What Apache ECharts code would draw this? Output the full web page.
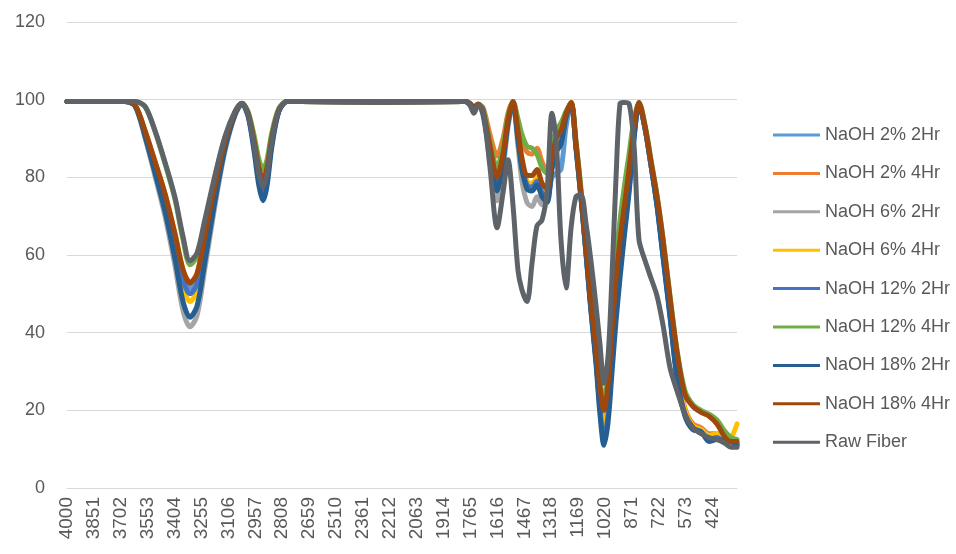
<!DOCTYPE html>
<html>
<head>
<meta charset="utf-8">
<script src="https://cdn.jsdelivr.net/npm/echarts@6/dist/echarts.min.js"></script>
<style>
    html, body { margin: 0; padding: 0; background: #fff; }
    #chart { width: 956px; height: 554px; }
</style>
</head>
<body>
<div id="chart"></div>
<script>
var wavenumbers = [
    4000, 3734, 3679, 3623, 3568, 3513, 3457, 3402, 3357, 3319, 3280, 3236, 3180, 3125, 3069, 3031,
    2997, 2964, 2937, 2914, 2892, 2865, 2826, 2781, 2709, 2266, 1795,
    1768, 1746, 1723, 1696, 1657, 1618, 1585, 1557, 1530, 1502, 1480, 1452, 1424, 1397, 1369, 1341,
    1314, 1291, 1264, 1236, 1208, 1181, 1153, 1125, 1098, 1070, 1048, 1026, 1003, 981, 959, 937,
    915, 887, 859, 832, 798, 765, 732, 699, 660, 621, 577, 533, 488, 444, 400, 355, 322, 289
];

// x axis labels: 4000, 3851, ... 424
var tickStart = 4000;
var tickStep = 149;

var naoh2_2 = [
    99.5, 99.5, 99.5, 98.5, 91.8, 83.7, 75, 64.5, 54.9, 51.5, 53.9, 64, 77.4, 88.9, 96.6, 99,
    96.1, 88, 80, 76.5, 80, 89.2, 97.2, 99.5, 99.5, 99.4, 99.5,
    99, 98, 98.8, 96.5, 86, 77, 84, 94, 99.3, 90, 83, 78.5, 78, 79.5, 76, 75,
    80, 81, 82, 93, 99, 88, 75, 60.5, 46.5, 33.5, 23, 16.5, 23, 37, 50, 60,
    69, 79, 91.5, 99, 92.5, 83, 73, 60.5, 45, 29, 19.5, 16, 15, 13, 13.5, 12.5, 12, 11.5
];
var naoh2_4 = [
    99.5, 99.5, 99.5, 98.6, 92.1, 84.2, 75.8, 65.6, 56.3, 53, 55.3, 65.1, 78.1, 89.3, 96.7, 99,
    96.4, 89.3, 82.1, 79, 82.1, 90.3, 97.5, 99.5, 99.5, 99.4, 99.5,
    99, 98, 98.8, 98, 91, 85.5, 90, 96.5, 99.5, 94, 89.5, 86.5, 86, 87.5, 84, 81.5,
    86, 88, 90, 96, 99.3, 88.5, 75.5, 61, 47, 34, 22, 14, 22, 38, 52, 63,
    71, 81, 92.5, 99.2, 92.5, 83.5, 74, 62, 46, 30, 20.5, 16.5, 15.5, 14, 14, 12.5, 12, 11.5
];
var naoh6_2 = [
    99.5, 99.5, 99.5, 98.3, 90.2, 80.4, 69.9, 57.2, 45.6, 41.5, 44.4, 56.6, 72.8, 86.7, 96, 98.9,
    96.1, 88.3, 80.4, 77, 80.4, 89.4, 97.3, 99.5, 99.5, 99.4, 99.5,
    99, 97.5, 98.8, 96, 84, 74, 82, 93, 99, 88, 79, 73.5, 72.5, 75, 73, 74.5,
    84, 88, 90, 95.5, 99, 88, 75, 60.5, 46.5, 33, 21, 13.5, 21, 36, 49, 59.5,
    68.5, 79, 91.5, 99, 92.5, 83, 73, 60.5, 45, 29, 19.5, 16, 15, 13.5, 13, 12, 11.5, 11.5
];
var naoh6_4 = [
    99.5, 99.5, 99.5, 98.5, 91.3, 82.5, 73.2, 61.9, 51.6, 48, 50.6, 61.4, 75.8, 88.2, 96.4, 99,
    96.3, 88.8, 81.2, 78, 81.2, 89.8, 97.4, 99.5, 99.5, 99.4, 99.5,
    99, 98, 98.8, 96.5, 86, 78, 85, 94.5, 99.3, 91, 84, 79, 78.5, 80, 76.5, 75.5,
    84, 88, 90, 96, 99.2, 88, 75, 60.5, 46.5, 33.5, 22, 15, 22, 37, 50.5, 61,
    70, 80, 92, 99.1, 92.5, 83, 73.5, 61, 45.5, 29.5, 20, 16, 15, 13.5, 14, 12.5, 13, 16.5
];
var naoh12_2 = [
    99.5, 99.5, 99.5, 98.5, 91.6, 83.2, 74.3, 63.4, 53.5, 50, 52.5, 62.9, 76.7, 88.6, 96.5, 99,
    96, 87.8, 79.5, 76, 79.5, 88.9, 97.2, 99.5, 99.5, 99.4, 99.5,
    99, 98, 98.8, 96.5, 86, 77.5, 84.5, 94.5, 99.3, 90.5, 83, 78, 77.5, 79, 76, 74.5,
    83, 87, 89, 95.5, 99, 88, 75, 60.5, 46, 33, 20.5, 12.5, 19, 33, 46, 56,
    65.5, 77, 90.5, 98.8, 92.5, 83, 73, 60, 44.5, 28.5, 19, 15.5, 14.5, 12.5, 13, 12, 12, 11
];
var naoh12_4 = [
    99.5, 99.5, 99.5, 99.5, 98.2, 91.9, 83.5, 74.3, 63.8, 57.5, 59.6, 68.4, 80.2, 90.3, 97, 99.1,
    96.9, 90.8, 84.6, 82, 84.6, 91.6, 97.8, 99.5, 99.5, 99.4, 99.5,
    99, 98, 98.8, 97.5, 89, 82.5, 88, 96, 99.5, 95, 91, 88, 87.5, 86, 82.5, 81,
    88, 92, 94, 97, 99.3, 89.5, 77, 63, 50, 38, 28, 22, 30, 45, 59, 69,
    77, 86, 95, 99.3, 93.5, 84.5, 75.5, 64.5, 49.5, 35.5, 25, 21.5, 20, 19, 17.5, 14.5, 13, 12.5
];
var naoh18_2 = [
    99.5, 99.5, 99.5, 98.4, 90.6, 81.2, 71.2, 59, 47.9, 44, 46.8, 58.4, 74, 87.3, 96.2, 98.9,
    95.7, 86.8, 77.8, 74, 77.8, 88, 97, 99.5, 99.5, 99.4, 99.5,
    99, 98, 98.8, 96.5, 85.5, 76.5, 84, 94, 99.2, 89.5, 82, 77, 76.5, 78, 75, 73.5,
    82, 86.5, 88.5, 95.5, 99, 87.5, 74.5, 60, 45.5, 32, 19, 11, 17, 30, 43, 54,
    64, 76, 90, 98.8, 92.5, 83, 72.5, 59.5, 44, 28, 18.5, 15, 14.5, 12, 12.5, 12, 12, 11
];
var naoh18_4 = [
    99.5, 99.5, 99.5, 98.6, 92, 84.1, 75.7, 65.4, 56.1, 52.8, 55.1, 65, 78, 89.2, 96.7, 99,
    96.5, 89.5, 82.5, 79.5, 82.5, 90.5, 97.5, 99.5, 99.5, 99.4, 99.5,
    99, 98, 98.8, 97, 88, 80, 86, 95, 99.5, 92, 85, 80.5, 80.5, 82, 78.5, 77,
    85, 90, 92, 96.5, 99.3, 89, 76, 62, 48, 36, 26, 20, 27, 41, 54, 64,
    72, 82, 93, 99.3, 93, 84, 75, 64, 49, 35, 24, 21, 19.5, 18.5, 16.5, 13, 12, 12
];
var rawFiber = [
    99.5, 99.5, 99.5, 99.5, 98.3, 92.1, 83.9, 74.9, 64.7, 58.5, 60.5, 69.2, 80.6, 90.5, 97, 99.1,
    96.2, 88.5, 80.8, 77.5, 80.8, 89.6, 97.3, 99.5, 99.5, 99.4, 99.5,
    98.5, 96.5, 98.5, 97.5, 82.5, 67, 76, 84.5, 73, 56, 51, 48, 58, 67.5, 69, 76.5,
    96.5, 90, 64, 51.5, 67, 75, 75.5, 68, 58.5, 47, 37, 27, 34, 55, 80, 99,
    99.3, 99, 88, 64, 58.5, 54, 49.5, 42, 31, 25, 19, 15.5, 14, 13, 12.5, 11.5, 10.5, 10.5
];

var seriesNames = ['NaOH 2% 2Hr', 'NaOH 2% 4Hr', 'NaOH 6% 2Hr', 'NaOH 6% 4Hr', 'NaOH 12% 2Hr',
    'NaOH 12% 4Hr', 'NaOH 18% 2Hr', 'NaOH 18% 4Hr', 'Raw Fiber'];
var seriesValues = [naoh2_2, naoh2_4, naoh6_2, naoh6_4, naoh12_2, naoh12_4, naoh18_2, naoh18_4, rawFiber];
var colors = ['#5B9BD5', '#ED7D31', '#A5A5A5', '#FFC000', '#4472C4', '#70AD47', '#255E91', '#9E480E', '#5e6369'];

var yTicks = { min: 0, max: 120, step: 20 };

var chart = echarts.init(document.getElementById('chart'));

// x position in label steps from 4000
function toX(w) {
    return (tickStart - w) / tickStep;
}

var series = seriesNames.map(function (name, i) {
    return {
        name: name,
        type: 'line',
        showSymbol: false,
        symbol: 'none',
        smooth: 0.3,
        lineStyle: { width: 5, color: colors[i], join: 'round', cap: 'round' },
        itemStyle: { color: colors[i] },
        data: wavenumbers.map(function (w, k) { return [toX(w), seriesValues[i][k]]; })
    };
});

var option = {
    animation: false,
    color: colors,
    grid: { left: 67, right: 219, top: 22, bottom: 66, containLabel: false },
    legend: {
        orient: 'vertical',
        left: 773,
        top: 125,
        padding: 0,
        icon: 'rect',
        itemWidth: 47,
        itemHeight: 3,
        itemGap: 18.4,
        textStyle: { color: '#595959', fontSize: 18, fontFamily: 'Liberation Sans', lineHeight: 20 },
        data: seriesNames
    },
    xAxis: {
        type: 'value',
        min: 0,
        max: toX(wavenumbers[wavenumbers.length - 1]),
        interval: 1,
        axisLine: { show: true, lineStyle: { color: '#d9d9d9' } },
        axisTick: { show: false },
        splitLine: { show: false },
        axisLabel: {
            rotate: 90,
            margin: 9,
            color: '#595959',
            fontSize: 19,
            fontFamily: 'Liberation Sans',
            showMaxLabel: false,
            formatter: function (v) { return String(Math.round(tickStart - tickStep * v)); }
        }
    },
    yAxis: {
        type: 'value',
        min: yTicks.min,
        max: yTicks.max,
        interval: yTicks.step,
        axisLine: { show: false },
        axisTick: { show: false },
        splitLine: { lineStyle: { color: '#d9d9d9', width: 1 } },
        axisLabel: { color: '#595959', fontSize: 18, fontFamily: 'Liberation Sans', margin: 22 }
    },
    series: series
};

chart.setOption(option);
</script>
</body>
</html>
